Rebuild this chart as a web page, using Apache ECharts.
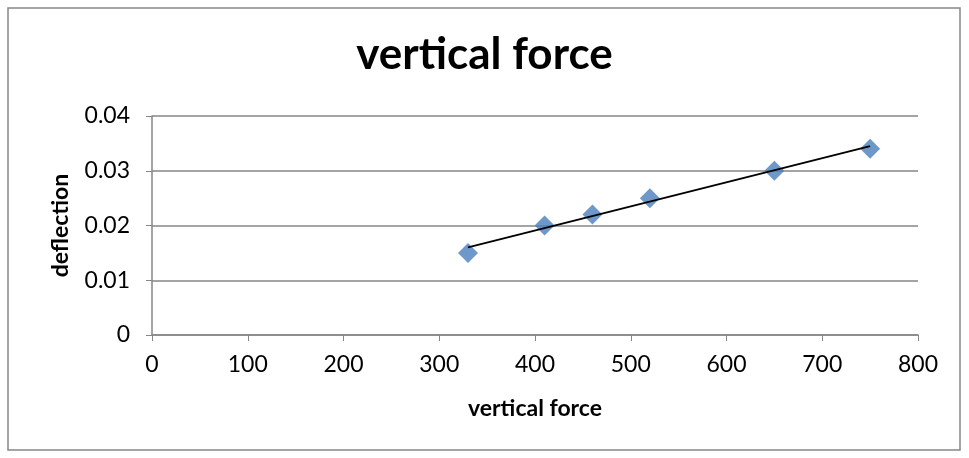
<!DOCTYPE html>
<html><head><meta charset="utf-8">
<script src="https://cdn.jsdelivr.net/npm/echarts@6/dist/echarts.min.js"></script>
<style>html,body{margin:0;padding:0;background:#fff}#c{width:969px;height:458px}</style>
</head><body><div id="c"></div>
<script>
const forceValues = [330, 410, 460, 520, 650, 750];
const deflectionValues = [0.015, 0.02, 0.022, 0.025, 0.03, 0.034];
const trendX = [330, 750];
const trendY = [0.016, 0.0345];
const titleText = 'vertical force';
const xName = 'vertical force';
const yName = 'deflection';

const font = 'Lato, "Open Sans", sans-serif';
const chart = echarts.init(document.getElementById('c'), null, {renderer: 'canvas'});
chart.setOption({
  animation: false,
  backgroundColor: '#fff',
  title: {text: titleText, left: 'center', top: 28, textStyle: {fontFamily: font, fontWeight: 'bold', fontSize: 44, color: '#000'}},
  grid: {left: 152, right: 51, top: 116, bottom: 123, containLabel: false},
  xAxis: {
    type: 'value', min: 0, max: 800, interval: 100,
    name: xName, nameLocation: 'middle', nameGap: 62,
    nameTextStyle: {fontFamily: font, fontWeight: 'bold', fontSize: 23, color: '#000'},
    axisLine: {show: true, onZero: false, lineStyle: {color: '#868686', width: 1.5}},
    axisTick: {show: true, length: 6, lineStyle: {color: '#868686'}},
    axisLabel: {fontFamily: font, fontSize: 23, color: '#000', margin: 18},
    splitLine: {show: false}
  },
  yAxis: {
    type: 'value', min: 0, max: 0.04, interval: 0.01,
    name: yName, nameLocation: 'middle', nameGap: 80, nameRotate: 90,
    nameTextStyle: {fontFamily: font, fontWeight: 'bold', fontSize: 23, color: '#000'},
    axisLine: {show: true, lineStyle: {color: '#868686', width: 1.5}},
    axisTick: {show: true, length: 6, lineStyle: {color: '#868686'}},
    axisLabel: {fontFamily: font, fontSize: 23, color: '#000', margin: 22, formatter: v => v === 0 ? '0' : v.toFixed(2)},
    splitLine: {show: true, lineStyle: {color: '#868686', width: 1.5}}
  },
  graphic: [{type: 'rect', shape: {x: 8, y: 8, width: 952, height: 442}, style: {fill: 'none', stroke: '#868686', lineWidth: 1.5}, z: -1}],
  series: [
    {type: 'scatter', data: forceValues.map((x, i) => [x, deflectionValues[i]]), symbol: 'diamond', symbolSize: 20, itemStyle: {color: '#4A7EBB'}, z: 2},
    {type: 'line', data: trendX.map((x, i) => [x, trendY[i]]), showSymbol: false, symbol: 'none', lineStyle: {color: '#000', width: 2}, z: 3}
  ]
});
</script></body></html>
